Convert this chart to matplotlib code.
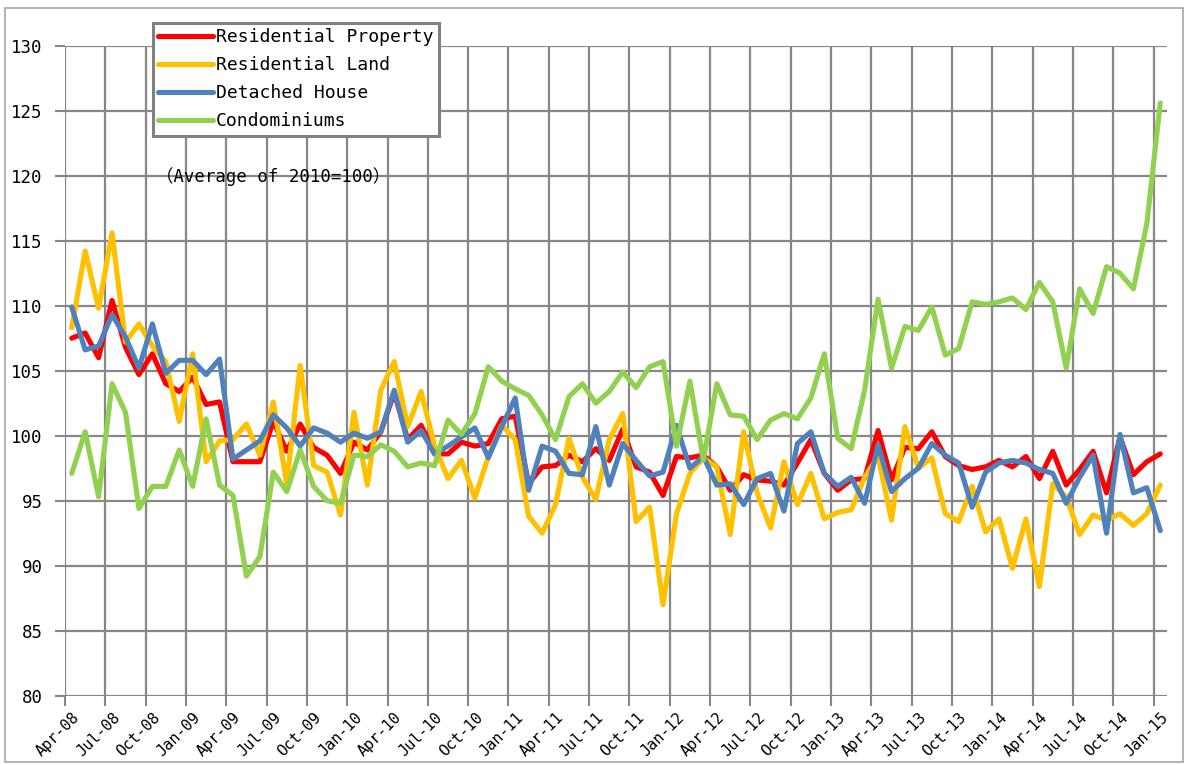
import matplotlib
matplotlib.use("Agg")
import matplotlib.pyplot as plt
import numpy as np
from matplotlib.patches import Rectangle

# monthly index, Apr-08 .. Jan-15 (Average of 2010 = 100)
residential_property = [
    107.5, 107.9, 106.0, 110.4, 106.8, 104.7, 106.3, 104.0, 103.4, 104.5,
    102.4, 102.6, 98.0, 98.0, 98.0, 101.1, 98.8, 100.9, 99.1, 98.5,
    97.1, 99.5, 98.9, 100.3, 103.3, 99.7, 100.8, 98.6, 98.6, 99.5,
    99.2, 99.4, 101.3, 101.5, 96.3, 97.6, 97.7, 98.5, 98.0, 99.0,
    98.1, 100.5, 97.6, 97.2, 95.4, 98.4, 98.3, 98.5, 97.6, 95.8,
    97.0, 96.6, 96.5, 96.2, 97.9, 99.7, 97.1, 95.8, 96.6, 96.7,
    100.4, 96.6, 99.1, 99.0, 100.3, 98.4, 97.7, 97.4, 97.6, 98.1,
    97.6, 98.4, 96.7, 98.8, 96.2, 97.4, 98.8, 95.6, 99.9, 97.0,
    98.0, 98.6,
]
residential_land = [
    108.3, 114.2, 109.8, 115.6, 107.2, 108.6, 106.9, 105.7, 101.1, 106.3,
    98.0, 99.6, 99.7, 100.9, 98.5, 102.6, 96.3, 105.4, 97.7, 97.2,
    93.9, 101.8, 96.2, 103.5, 105.7, 100.7, 103.4, 99.2, 96.7, 98.1,
    95.2, 98.4, 100.8, 99.7, 93.8, 92.5, 94.7, 99.8, 96.8, 95.1,
    99.7, 101.7, 93.4, 94.5, 87.0, 94.0, 97.1, 98.3, 97.6, 92.4,
    100.3, 95.6, 92.9, 98.0, 94.7, 97.1, 93.6, 94.1, 94.3, 96.8,
    98.4, 93.5, 100.7, 97.5, 98.3, 94.0, 93.4, 96.1, 92.6, 93.6,
    89.8, 93.6, 88.4, 96.3, 95.3, 92.4, 93.9, 93.5, 94.0, 93.1,
    94.0, 96.2,
]
detached_house = [
    109.9, 106.6, 106.9, 109.3, 107.6, 105.2, 108.6, 104.8, 105.8, 105.8,
    104.7, 105.9, 98.2, 98.9, 99.6, 101.6, 100.6, 99.2, 100.6, 100.2,
    99.5, 100.2, 99.8, 100.3, 103.5, 99.5, 100.4, 98.6, 99.2, 99.9,
    100.6, 98.3, 100.7, 102.9, 95.8, 99.2, 98.8, 97.1, 97.0, 100.7,
    96.2, 99.4, 98.1, 96.9, 97.2, 100.8, 97.5, 98.4, 96.2, 96.3,
    94.7, 96.7, 97.1, 94.2, 99.4, 100.3, 97.1, 96.1, 96.8, 94.8,
    99.3, 95.7, 96.7, 97.5, 99.4, 98.5, 97.9, 94.5, 97.2, 97.9,
    98.1, 97.9, 97.4, 97.1, 94.8, 96.8, 98.5, 92.5, 100.1, 95.6,
    96.0, 92.7,
]
condominiums = [
    97.1, 100.3, 95.3, 104.0, 101.8, 94.4, 96.1, 96.1, 98.9, 96.1,
    101.3, 96.2, 95.4, 89.2, 90.7, 97.2, 95.7, 98.9, 96.1, 95.0,
    94.8, 98.5, 98.4, 99.3, 98.8, 97.6, 97.9, 97.7, 101.2, 100.1,
    101.7, 105.3, 104.2, 103.6, 103.1, 101.6, 99.7, 103.0, 104.0, 102.5,
    103.4, 104.9, 103.7, 105.3, 105.7, 99.2, 104.2, 98.1, 104.0, 101.6,
    101.5, 99.7, 101.2, 101.7, 101.3, 102.9, 106.3, 99.8, 99.0, 103.5,
    110.5, 105.2, 108.4, 108.1, 109.9, 106.2, 106.7, 110.3, 110.1, 110.3,
    110.6, 109.7, 111.8, 110.3, 105.2, 111.3, 109.4, 113.0, 112.5, 111.3,
    116.3, 125.6,
]

tick_labels = [
    "Apr-08", "Jul-08", "Oct-08", "Jan-09", "Apr-09", "Jul-09", "Oct-09",
    "Jan-10", "Apr-10", "Jul-10", "Oct-10", "Jan-11", "Apr-11", "Jul-11",
    "Oct-11", "Jan-12", "Apr-12", "Jul-12", "Oct-12", "Jan-13", "Apr-13",
    "Jul-13", "Oct-13", "Jan-14", "Apr-14", "Jul-14", "Oct-14", "Jan-15",
]

series = [
    ("Residential Property", residential_property, "#FF0000"),
    ("Residential Land", residential_land, "#FFC000"),
    ("Detached House", detached_house, "#4F81BD"),
    ("Condominiums", condominiums, "#92D050"),
]

mono = ["DejaVu Sans Mono", "Noto Sans CJK JP"]
grid_col = "#878787"

fig = plt.figure(figsize=(11.87, 7.65), dpi=100)
ax = fig.add_axes([65 / 1187, 1 - 695.7 / 765, 1102 / 1187, 650 / 765])

n = len(residential_property)
x = np.arange(n)
for name, vals, col in series:
    ax.plot(x, vals, color=col, lw=3.7, label=name, solid_joinstyle="round",
            solid_capstyle="round", zorder=3)

ax.set_xlim(-0.5, n - 0.5)
ax.set_ylim(80, 130)
ax.set_yticks(np.arange(80, 131, 5))

# gridlines / tick marks at category boundaries, labels on the category
ax.set_xticks(np.arange(-0.5, n - 1, 3))
ax.set_xticklabels([])
ax.set_xticks(np.arange(0, n, 3), minor=True)
ax.set_xticklabels(tick_labels, minor=True, rotation=45, ha="right",
                   va="top", rotation_mode="anchor", family=mono, fontsize=11)
ax.tick_params(axis="x", which="minor", length=0, pad=10)
ax.tick_params(axis="x", which="major", length=7, width=1.5, color=grid_col,
               direction="out")
ax.tick_params(axis="y", length=7, width=1.5, color=grid_col, pad=9,
               labelsize=12.5)
for lab in ax.get_yticklabels():
    lab.set_family(mono)

ax.grid(True, which="major", color=grid_col, lw=1.6)
ax.set_axisbelow(True)
for s in ax.spines.values():
    s.set_visible(False)

leg = ax.legend(loc="upper left", bbox_to_anchor=(153 / 1187, 1 - 23 / 765),
                bbox_transform=fig.transFigure, borderaxespad=0,
                prop={"family": mono, "size": 13}, handlelength=3.0,
                handletextpad=0.2, labelspacing=0.55, fancybox=False,
                framealpha=1, edgecolor="#808080", borderpad=0.3)
leg.get_frame().set_linewidth(2.2)
leg.set_zorder(5)

fig.text(156 / 1187, 1 - 177 / 765, "（Average of 2010=100）", family=mono,
         fontsize=12.5, va="center", ha="left")

fig.patches.append(Rectangle((5 / 1187, 3 / 765), 1178 / 1187, 754 / 765,
                             transform=fig.transFigure, fill=False,
                             edgecolor="#a6a6a6", lw=1.2))

fig.savefig("out.png", dpi=100)
